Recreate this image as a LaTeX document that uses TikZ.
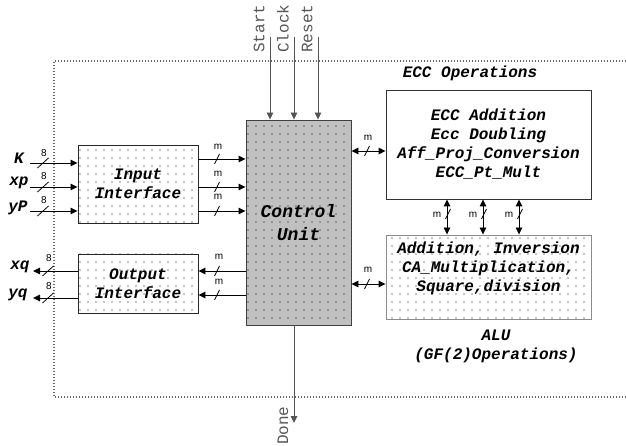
\documentclass[tikz,border=0pt]{standalone}
\usepackage{fontspec}
\setmainfont{Liberation Serif}
\newfontfamily\courf{Liberation Mono}
\newfontfamily\arialf{Liberation Sans}
\usetikzlibrary{arrows.meta,patterns.meta,calc}
\definecolor{cugray}{HTML}{C0C0C0}
\definecolor{wiregray}{HTML}{555555}
\tikzset{
  wideslash/.pic={\draw[line width=0.8pt] (-5.5,5) -- (5.5,-5);},
  steepslash/.pic={\draw[line width=0.8pt] (-2.5,5) -- (2.5,-5);},
}
\begin{document}
\begin{tikzpicture}[x=1pt,y=-1pt,
  bi/.style={font=\courf\bfseries\itshape\fontsize{16}{19}\selectfont, align=center, inner sep=0pt},
  siglbl/.style={font=\courf\fontsize{16}{19}\selectfont, text=wiregray, inner sep=0pt, rotate=90, anchor=west},
  small/.style={font=\arialf\fontsize{10}{12}\selectfont, inner sep=0pt},
  dotbox/.style={line width=0.9pt, preaction={fill=#1}, pattern={Dots[distance=8pt,radius=0.7pt]}, pattern color=black},
  wire/.style={line width=0.9pt, -{Triangle[length=7pt,width=6.5pt]}},
  biwire/.style={line width=0.9pt, {Triangle[length=7pt,width=6.5pt]}-{Triangle[length=7pt,width=6.5pt]}},
  gwire/.style={wire, draw=wiregray},
  frame/.style={line width=1.1pt, draw=black!60, dash pattern=on 1.2pt off 1.8pt},
]
\useasboundingbox (0,0) rectangle (626,446);

% dotted outer frame
\coordinate (fa) at (626,61);
\coordinate (fb) at (54,61);
\coordinate (fc) at (54,397);
\coordinate (fd) at (626,397);
\draw[frame] (fa) -- (fb) -- (fc) -- (fd);

% boxes
\node[dotbox=white, draw=black!85, minimum width=120pt, minimum height=78pt, bi] (inbox) at (138,184) {Input\\Interface};
\node[dotbox=white, draw=black!85, minimum width=120pt, minimum height=59pt, bi] (outbox) at (138,283.5) {Output\\Interface};
\node[dotbox=cugray, draw=black!75, minimum width=105pt, minimum height=205pt, bi, font=\courf\bfseries\itshape\fontsize{18}{23}\selectfont] (ctrl) at (298.5,222.5) {Control\\Unit};
\node[draw=black!80, line width=0.9pt, fill=white, minimum width=205pt, minimum height=109pt, bi] (ecc) at (488.5,144.5) {ECC Addition\\Ecc Doubling\\Aff\_Proj\_Conversion\\ECC\_Pt\_Mult};
\node[dotbox=white, draw=black!45, minimum width=205pt, minimum height=84pt] (alu) at (488.5,277) {};
\node[bi] (alutext) at (488.5,268) {Addition, Inversion\\CA\_Multiplication,\\Square,division};

% captions
\node[bi] (ecclbl) at (470,73) {ECC Operations};
\node[bi] (alulbl) at (496,346.5) {ALU\\(GF(2)Operations)};

% inputs to input interface
\coordinate (kin) at (30,163);
\coordinate (xpin) at (30,187);
\coordinate (ypin) at (30,211);
\draw[wire] (kin) -- (kin -| inbox.west);
\draw[wire] (xpin) -- (xpin -| inbox.west);
\draw[wire] (ypin) -- (ypin -| inbox.west);
\node[bi] (lk) at (19,158) {K};
\node[bi] (lxp) at (19,183) {xp};
\node[bi] (lyp) at (18,208) {yP};
\pic at (43,163) {wideslash};
\pic at (43,187) {wideslash};
\pic at (43,211) {wideslash};
\node[small] (e1) at (44,153) {8};
\node[small] (e2) at (44,176) {8};
\node[small] (e3) at (44,200) {8};

% input interface to control
\coordinate (o1) at (0,159);
\coordinate (o2) at (0,187);
\coordinate (o3) at (0,211);
\draw[wire] (o1 -| inbox.east) -- (o1 -| ctrl.west);
\draw[wire] (o2 -| inbox.east) -- (o2 -| ctrl.west);
\draw[wire] (o3 -| inbox.east) -- (o3 -| ctrl.west);
\pic at (217,159) {steepslash};
\pic at (217,187) {steepslash};
\pic at (217,211) {steepslash};
\node[small] (m1) at (218,147) {m};
\node[small] (m2) at (218,174) {m};
\node[small] (m3) at (218,197) {m};

% control to output interface
\coordinate (c1) at (0,271);
\coordinate (c2) at (0,295);
\draw[wire] (c1 -| ctrl.west) -- (c1 -| outbox.east);
\draw[wire] (c2 -| ctrl.west) -- (c2 -| outbox.east);
\pic at (217,271) {steepslash};
\pic at (217,295) {steepslash};
\node[small] (m4) at (219,257) {m};
\node[small] (m5) at (219,282) {m};

% output interface to outputs
\coordinate (q1) at (33,271);
\coordinate (q2) at (33,298);
\draw[wire] (q1 -| outbox.west) -- (q1);
\draw[wire] (q2 -| outbox.west) -- (q2);
\node[bi] (lxq) at (20,267) {xq};
\node[bi] (lyq) at (18,295) {yq};
\pic at (48,271) {wideslash};
\pic at (48,298) {wideslash};
\node[small] (e4) at (49,258) {8};
\node[small] (e5) at (49,286) {8};

% control <-> ECC and ALU
\coordinate (b1) at (0,151);
\coordinate (b2) at (0,284);
\draw[biwire] (b1 -| ctrl.east) -- (b1 -| ecc.west);
\draw[biwire] (b2 -| ctrl.east) -- (b2 -| alu.west);
\pic at (367,151) {steepslash};
\pic at (367,284) {steepslash};
\node[small] (m6) at (368,138) {m};
\node[small] (m7) at (368,270) {m};

% ECC <-> ALU
\coordinate (v1) at (447,0);
\coordinate (v2) at (483,0);
\coordinate (v3) at (519,0);
\draw[biwire] (v1 |- ecc.south) -- (v1 |- alu.north);
\draw[biwire] (v2 |- ecc.south) -- (v2 |- alu.north);
\draw[biwire] (v3 |- ecc.south) -- (v3 |- alu.north);
\pic at (448,214) {steepslash};
\pic at (484,214) {steepslash};
\pic at (520,214) {steepslash};
\node[small] (m8) at (437,215) {m};
\node[small] (m9) at (473,215) {m};
\node[small] (m10) at (509,215) {m};

% top control signals
\coordinate (st) at (270,37);
\coordinate (ck) at (294,37);
\coordinate (rs) at (318,37);
\draw[gwire] (st) -- (st |- ctrl.north);
\draw[gwire] (ck) -- (ck |- ctrl.north);
\draw[gwire] (rs) -- (rs |- ctrl.north);
\node[siglbl] (lst) at (259,53) {Start};
\node[siglbl] (lck) at (283,53) {Clock};
\node[siglbl] (lrs) at (307,53) {Reset};

% done
\coordinate (dn) at (294,423);
\draw[gwire] (dn |- ctrl.south) -- (dn);
\node[siglbl] (ldn) at (283,445) {Done};
\end{tikzpicture}
\end{document}
